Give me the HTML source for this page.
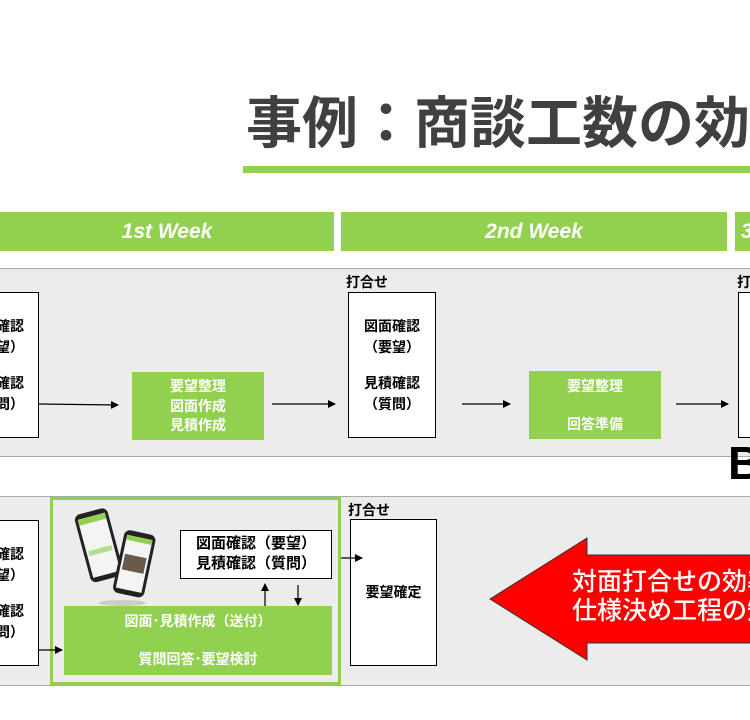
<!DOCTYPE html>
<html><head><meta charset="utf-8"><style>
html,body{margin:0;padding:0}
body{width:750px;height:720px;overflow:hidden;background:#fff;font-family:"Liberation Sans","Noto Sans CJK JP",sans-serif}
#w{position:relative;width:750px;height:720px;overflow:hidden}
.a{position:absolute}
.t{position:absolute;font-weight:bold;font-size:14px;line-height:20px;text-align:center;white-space:nowrap}
.box{position:absolute;background:#fff;border:1px solid #000;box-sizing:border-box}
.g{position:absolute;background:#92d050;color:#fff}
</style></head><body><div id="w">
<div class="a" style="left:246px;top:88px;font-size:56px;font-weight:bold;color:#404040;white-space:nowrap;line-height:72px">事例：商談工数の効率化</div>
<div class="a" style="left:243px;top:166px;width:507px;height:7px;background:#92d050"></div>
<div class="g" style="left:0;top:212px;width:334px;height:39px;font:italic bold 21px/39px 'Liberation Sans',sans-serif;text-align:center">1st Week</div>
<div class="g" style="left:341px;top:212px;width:386px;height:39px;font:italic bold 21px/39px 'Liberation Sans',sans-serif;text-align:center">2nd Week</div>
<div class="g" style="left:735px;top:212px;width:15px;height:39px;font:italic bold 21px/39px 'Liberation Sans',sans-serif;padding-left:6px;box-sizing:border-box;overflow:hidden">3</div>
<div class="a" style="left:0;top:268px;width:750px;height:189px;background:#ececec;border-top:1px solid #aaa;border-bottom:1px solid #aaa;box-sizing:border-box"></div>
<div class="a" style="left:0;top:496px;width:750px;height:190px;background:#ececec;border-top:1px solid #aaa;border-bottom:1px solid #aaa;box-sizing:border-box"></div>
<div class="a" style="left:728px;top:436px;font-size:46px;font-weight:bold;line-height:54px">B</div>

<div class="box" style="left:-60px;top:292px;width:99px;height:146px"></div>
<div class="t" style="left:-44px;top:316px;width:80px;line-height:21px">図面確認<br>（要望）</div>
<div class="t" style="left:-44px;top:373px;width:80px;line-height:21px">見積確認<br>（質問）</div>
<div class="g t" style="left:132px;top:372px;width:132px;height:68px;padding-top:5px;box-sizing:border-box;line-height:19.5px">要望整理<br>図面作成<br>見積作成</div>
<div class="t" style="left:346px;top:272px;text-align:left">打合せ</div>
<div class="box" style="left:348px;top:292px;width:88px;height:146px"></div>
<div class="t" style="left:348px;top:316px;width:88px;line-height:21px">図面確認<br>（要望）</div>
<div class="t" style="left:348px;top:373px;width:88px;line-height:21px">見積確認<br>（質問）</div>
<div class="g t" style="left:529px;top:371px;width:132px;height:68px"><div style="margin-top:5px">要望整理</div><div style="margin-top:18px">回答準備</div></div>
<div class="t" style="left:737px;top:272px;text-align:left">打合せ</div>
<div class="box" style="left:738px;top:292px;width:40px;height:146px"></div>

<div class="box" style="left:-60px;top:520px;width:99px;height:146px"></div>
<div class="t" style="left:-44px;top:544px;width:80px;line-height:21px">図面確認<br>（要望）</div>
<div class="t" style="left:-44px;top:601px;width:80px;line-height:21px">見積確認<br>（質問）</div>
<div class="a" style="left:50px;top:497px;width:291px;height:188px;border:3px solid #92d050;box-sizing:border-box"></div>
<div class="box" style="left:180px;top:530px;width:152px;height:49px"></div>
<div class="t" style="left:180px;top:534px;width:152px;line-height:20px;font-size:15px">図面確認（要望）<br>見積確認（質問）</div>
<div class="g t" style="left:64px;top:606px;width:268px;height:69px"><div style="margin-top:5px">図面･見積作成（送付）</div><div style="margin-top:18px">質問回答･要望検討</div></div>
<div class="t" style="left:348px;top:500px;text-align:left">打合せ</div>
<div class="box" style="left:350px;top:519px;width:87px;height:147px"></div>
<div class="t" style="left:350px;top:582px;width:87px">要望確定</div>

<svg class="a" style="left:0;top:0" width="750" height="720">
<defs><marker id="m" markerWidth="8" markerHeight="8" refX="7" refY="4" orient="auto" markerUnits="userSpaceOnUse"><path d="M0,0L8,4L0,8z" fill="#000"/></marker></defs>
<g stroke="#000" stroke-width="1.2" fill="none" marker-end="url(#m)">
<line x1="39" y1="404" x2="118" y2="405"/>
<line x1="272" y1="404" x2="335" y2="404"/>
<line x1="462" y1="404" x2="510" y2="404"/>
<line x1="676" y1="404" x2="728" y2="404"/>
<line x1="39" y1="650" x2="62" y2="650"/>
<line x1="341" y1="558" x2="362" y2="558"/>
<line x1="265" y1="606" x2="265" y2="584"/>
<line x1="298" y1="585" x2="298" y2="605"/>
</g>
<g transform="rotate(-15 100 545)"><rect x="82" y="510" width="34" height="70" rx="6" fill="#222"/><rect x="85" y="515" width="28" height="60" fill="#f4f4f4"/><rect x="85" y="515" width="28" height="6" fill="#92d050"/><rect x="87" y="548" width="24" height="5" fill="#b5de8c"/></g>
<g transform="rotate(12 135 565)"><rect x="118" y="532" width="32" height="64" rx="6" fill="#222"/><rect x="121" y="537" width="26" height="54" fill="#f4f4f4"/><rect x="121" y="537" width="26" height="5" fill="#92d050"/><rect x="123" y="556" width="22" height="16" fill="#6b5a4a"/></g>
<ellipse cx="122" cy="603" rx="24" ry="3" fill="#ccc"/>
<path d="M490,599 L587,538 L587,555 L760,555 L760,643 L587,643 L587,660 Z" fill="#ff0000" stroke="#333" stroke-width="1"/>
</svg>
<div class="a" style="left:572px;top:568px;width:178px;overflow:hidden;color:#fff;font-size:25px;line-height:29px;white-space:nowrap;font-weight:500">対面打合せの効率化<br>仕様決め工程の短縮</div>
</div></body></html>
